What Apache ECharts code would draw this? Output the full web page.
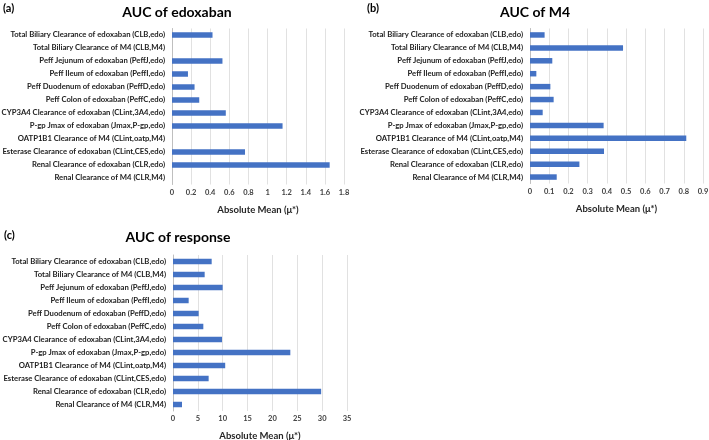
<!DOCTYPE html>
<html><head><meta charset="utf-8">
<script src="https://cdn.jsdelivr.net/npm/echarts@6/dist/echarts.min.js"></script>
<style>html,body{margin:0;padding:0;background:#fff}#c{width:709px;height:440px}</style>
</head><body><div id="c"></div>
<script>
const categories = [
  "Total Biliary Clearance of edoxaban (CLB,edo)",
  "Total Biliary Clearance of M4 (CLB,M4)",
  "Peff Jejunum of edoxaban (PeffJ,edo)",
  "Peff Ileum of edoxaban (PeffI,edo)",
  "Peff Duodenum of edoxaban (PeffD,edo)",
  "Peff Colon of edoxaban (PeffC,edo)",
  "CYP3A4 Clearance of edoxaban (CLint,3A4,edo)",
  "P-gp Jmax of edoxaban (Jmax,P-gp,edo)",
  "OATP1B1 Clearance of M4 (CLint,oatp,M4)",
  "Esterase Clearance of edoxaban (CLint,CES,edo)",
  "Renal Clearance of edoxaban (CLR,edo)",
  "Renal Clearance of M4 (CLR,M4)"
];
const aucEdoxaban = [0.424, 0, 0.528, 0.167, 0.236, 0.285, 0.563, 1.157, 0, 0.764, 1.65, 0];
const aucM4 = [0.076, 0.484, 0.116, 0.033, 0.106, 0.123, 0.066, 0.383, 0.813, 0.385, 0.257, 0.139];
const aucResponse = [7.78, 6.37, 9.99, 3.15, 5.16, 6.10, 9.86, 23.6, 10.5, 7.17, 29.8, 1.81];
const panelTitles = ["AUC of edoxaban", "AUC of M4", "AUC of response"];
const panelTags = ["(a)", "(b)", "(c)"];
const axisName = "Absolute Mean (\u03bc*)";
const xMax = [1.8, 0.9, 35];
const xInterval = [0.2, 0.1, 5];

const FONT = "Lato";
const grids = [
  {left: 172, top: 28.5, width: 172, height: 156, outerBoundsMode: 'none', containLabel: false},
  {left: 530, top: 28.5, width: 173, height: 155, outerBoundsMode: 'none', containLabel: false},
  {left: 173, top: 255, width: 174, height: 156, outerBoundsMode: 'none', containLabel: false}
];
const titlePos = [{x: 177, y: 12}, {x: 535, y: 12}, {x: 178, y: 237}];
const tagPos = [{x: 3, y: 8}, {x: 367, y: 8}, {x: 4, y: 235}];
const dataSets = [aucEdoxaban, aucM4, aucResponse];

const option = {
  animation: false,
  textStyle: {fontFamily: FONT},
  grid: grids,
  graphic: [],
  xAxis: grids.map((g, i) => ({
    gridIndex: i, type: 'value', min: 0, max: xMax[i], interval: xInterval[i],
    name: axisName, nameLocation: 'middle', nameGap: 20,
    nameTextStyle: {fontFamily: FONT, fontWeight: 'bold', fontSize: 9.5, color: '#262626'},
    axisLine: {show: false},
    axisTick: {show: false},
    axisLabel: {fontFamily: FONT, fontSize: 7.5, fontWeight: 'bold', color: '#404040', margin: 4},
    splitLine: {show: true, lineStyle: {color: '#d9d9d9', width: 0.8}}
  })),
  yAxis: grids.map((g, i) => ({
    gridIndex: i, type: 'category', data: categories, inverse: true,
    axisLine: {show: true, lineStyle: {color: '#bfbfbf', width: 1}},
    axisTick: {show: false},
    axisLabel: {fontFamily: FONT, fontSize: 7.7, fontWeight: 'bold', color: '#222222', margin: 7, interval: 0}
  })),
  series: dataSets.map((d, i) => ({
    type: 'bar', xAxisIndex: i, yAxisIndex: i, data: d, barWidth: 5.5,
    itemStyle: {color: '#4472C4'}
  }))
};
panelTitles.forEach((t, i) => {
  option.graphic.push({type: 'text', x: titlePos[i].x, y: titlePos[i].y,
    style: {text: t, font: 'bold 14px ' + FONT, fill: '#000', textAlign: 'center', textVerticalAlign: 'middle'}});
  option.graphic.push({type: 'text', x: tagPos[i].x, y: tagPos[i].y,
    style: {text: panelTags[i], font: 'bold 11px ' + FONT, fill: '#000', textAlign: 'left', textVerticalAlign: 'middle'}});
});
const chart = echarts.init(document.getElementById('c'), null, {renderer: 'canvas'});
chart.setOption(option);
</script></body></html>
